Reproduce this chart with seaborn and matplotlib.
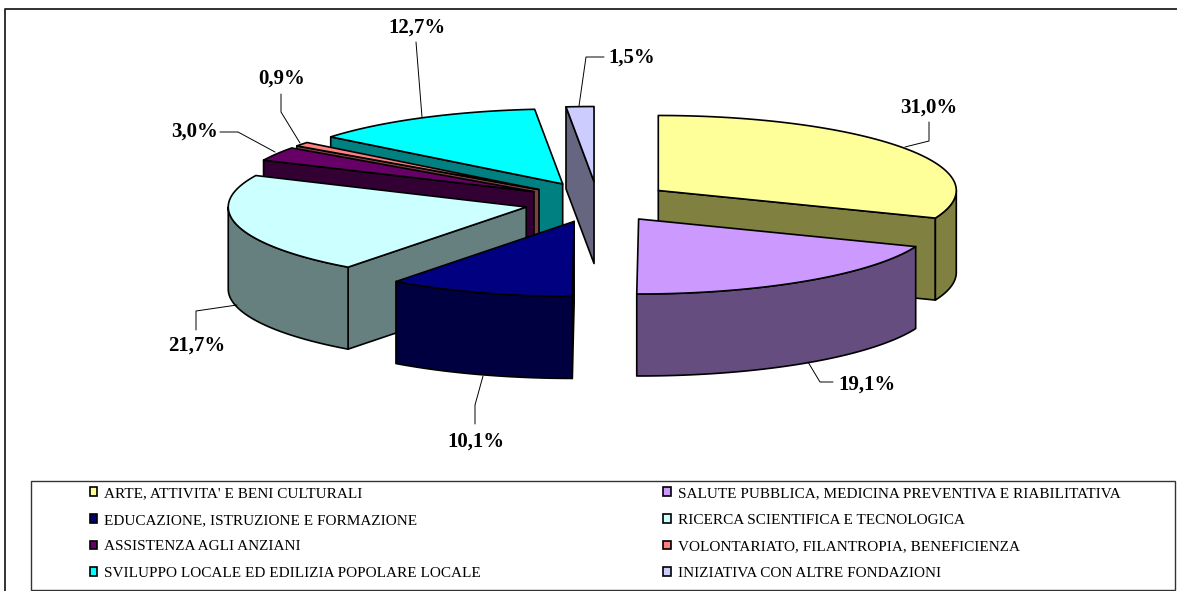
import numpy as np
import matplotlib
matplotlib.use("Agg")
import matplotlib.pyplot as plt
from matplotlib.patches import Patch, Rectangle
import seaborn as sns

categories = ["ARTE, ATTIVITA' E BENI CULTURALI",
              "SALUTE PUBBLICA, MEDICINA PREVENTIVA E RIABILITATIVA",
              "EDUCAZIONE, ISTRUZIONE E FORMAZIONE",
              "RICERCA SCIENTIFICA E TECNOLOGICA",
              "ASSISTENZA AGLI ANZIANI",
              "VOLONTARIATO, FILANTROPIA, BENEFICIENZA",
              "SVILUPPO LOCALE ED EDILIZIA POPOLARE LOCALE",
              "INIZIATIVA CON ALTRE FONDAZIONI"]
values = [31.0, 19.1, 10.1, 21.7, 3.0, 0.9, 12.7, 1.5]
colors = ["#FFFF99", "#CC99FF", "#000080", "#CCFFFF",
          "#660066", "#FF8080", "#00FFFF", "#CCCCFF"]
side_colors = ["#808040", "#664D80", "#000040", "#668080",
               "#330033", "#804040", "#008080", "#666680"]
# where each percentage label sits and how its leader line runs, in pixels
label_xy = [(929, 108), (867, 385), (476, 442), (197, 346),
            (195, 132), (282, 79), (417, 28), (632, 58)]
leaders = [[(905, 147), (929, 141), (929, 122)],
           [(808, 362), (820, 382), (833, 382)],
           [(483, 376), (475, 405), (475, 424)],
           [(237, 305), (196, 311), (196, 330)],
           [(275, 152), (238, 132), (220, 132)],
           [(300, 143), (281, 112), (281, 94)],
           [(422, 117), (416, 42)],
           [(579, 106), (586, 57), (604, 57)]]

# geometry of the tilted pie, in pixels
CX, CY = 597.5, 202
RX, RY = 298, 75
EX, EY = 73.5, 20.5
DEPTH = 82

sns.set_style("white")
plt.rcParams["font.family"] = ["Liberation Serif"]
plt.rcParams["text.color"] = "black"

fig = plt.figure(figsize=(11.77, 5.91), dpi=100)
ax = fig.add_axes([0, 0, 1, 1])
ax.set_xlim(0, 1177)
ax.set_ylim(591, 0)
ax.axis("off")

# frame of the chart area, only top and left survive the crop
ax.plot([5, 5, 1177], [591, 9, 9], color="#222222", lw=1.3, zorder=1)


def rim(ox, oy, a):
    return ox + RX * np.sin(a), oy - RY * np.cos(a)


def draw_face(xs, ys, color):
    ax.fill(xs, ys, facecolor=color, edgecolor="black", lw=1.2,
            joinstyle="round", zorder=z[0])
    z[0] += 1


def radial_face(ox, oy, a, color):
    ex, ey = rim(ox, oy, a)
    draw_face([ox, ex, ex, ox], [oy, ey, ey + DEPTH, oy + DEPTH], color)


def draw_slice(i):
    ox = CX + EX * np.sin(mid[i])
    oy = CY - EY * np.cos(mid[i])
    a0, a1 = starts[i], ends[i]
    # only the cuts turned towards the viewer
    if np.sin(a0) < -1e-6:
        radial_face(ox, oy, a0, side_colors[i])
    if np.sin(a1) > 1e-6:
        radial_face(ox, oy, a1, side_colors[i])
    # outer wall, only the part of the rim in front
    lo, hi = max(a0, np.pi / 2), min(a1, 3 * np.pi / 2)
    if hi > lo:
        t = np.linspace(lo, hi, 80)
        xs, ys = rim(ox, oy, t)
        draw_face(np.r_[xs, xs[::-1]], np.r_[ys, ys[::-1] + DEPTH], side_colors[i])
    t = np.linspace(a0, a1, 120)
    xs, ys = rim(ox, oy, t)
    draw_face(np.r_[ox, xs], np.r_[oy, ys], colors[i])


shares = np.array(values) / np.sum(values) * 2 * np.pi
ends = np.cumsum(shares)
starts = ends - shares
mid = (starts + ends) / 2

z = [2]
# painted from the back of the pie to the front
for i in [7, 6, 5, 4, 3, 0, 1, 2]:
    draw_slice(i)

for val, (lx, ly), pts in zip(values, label_xy, leaders):
    ax.plot(*zip(*pts), color="black", lw=0.7, zorder=60)
    ax.text(lx, ly, f"{val:.1f}%".replace(".", ","), ha="center", va="center",
            fontsize=15, fontweight="bold", zorder=61)

# legend box
ax.add_patch(Rectangle((31, 481), 1175 - 31, 109, facecolor="white",
                       edgecolor="#333333", lw=1.0, zorder=69))
# legend fills by column, the reference reads by row
order = [0, 2, 4, 6, 1, 3, 5, 7]
handles = [Patch(facecolor=colors[i], edgecolor="black", lw=1.2) for i in order]
labels = [categories[i] for i in order]
leg = ax.legend(handles, labels, ncol=2, loc="upper left",
                bbox_to_anchor=(89.7 / 1177, 1 - 487 / 591),
                frameon=False, fontsize=11, handlelength=0.5, handleheight=0.5,
                handletextpad=0.45, labelspacing=0.9, borderaxespad=0, borderpad=0,
                columnspacing=11.92)
leg.set_zorder(70)

fig.savefig("out.png", dpi=100)
